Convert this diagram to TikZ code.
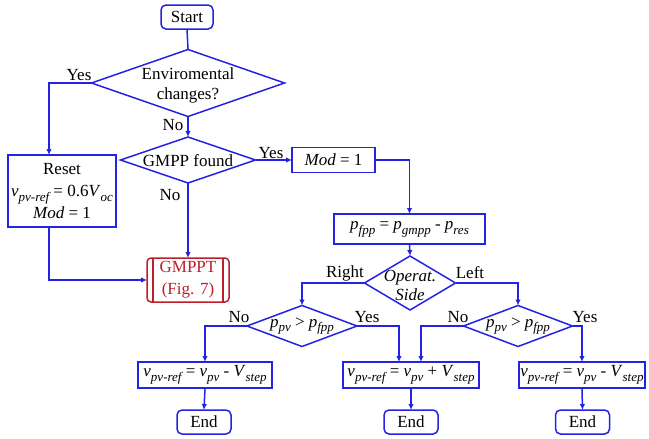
\documentclass[tikz,border=0pt]{standalone}
\usepackage{fontspec}
\setmainfont{Liberation Serif}
\usetikzlibrary{shapes.geometric,arrows.meta}
\definecolor{fblue}{RGB}{35,35,225}
\definecolor{fred}{RGB}{190,30,40}
\newcommand\fsz{\fontsize{17}{22}\selectfont}
\newcommand\sbx[1]{\raisebox{-0.28em}{\fontsize{13}{13}\selectfont\itshape #1}}
\newcommand\vv[1]{\textit{#1}}
\begin{document}
\begin{tikzpicture}[x=1pt,y=-1pt,
  every node/.style={font=\fsz, inner sep=0pt, outer sep=0pt},
  proc/.style={draw=fblue, line width=1.5pt, rectangle, align=center},
  term/.style={proc, rounded corners=5pt},
  dec/.style={draw=fblue, line width=1.5pt, diamond},
  arr/.style={draw=fblue, line width=1.5pt, -{Latex[length=6pt,width=5.5pt]}},
  ln/.style={draw=fblue, line width=1.5pt}
]
\useasboundingbox (0,0) rectangle (649,439);

% main column
\node[term, minimum width=52, minimum height=24] (start) at (187,17) {Start};
\node[dec, minimum width=193, minimum height=67] (env) at (188,83) {};
\node[align=center, font=\fontsize{17}{20}\selectfont] (envx) at (188,85) {Enviromental\\changes?};
\node[dec, minimum width=135, minimum height=46] (gmpp) at (188,160) {};
\node (gmppx) at (188,161) {GMPP found};
\node[proc, minimum width=108, minimum height=72] (reset) at (62,191)
  {Reset\\ \vv{v}\sbx{pv-ref} = 0.6\vv{V}\sbx{oc}\\ \vv{Mod} = 1};
\node[draw=fred, line width=1.5pt, rounded corners=4pt, minimum width=82, minimum height=44,
  text=fred, align=center] (fig) at (188,280) {GMPPT\\(Fig. 7)};
\draw[fred, line width=1.2pt] ([xshift=6pt]fig.north west) -- ([xshift=6pt]fig.south west);
\draw[fred, line width=1.2pt] ([xshift=-6pt]fig.north east) -- ([xshift=-6pt]fig.south east);

% right part
\node[proc, minimum width=83, minimum height=25] (mod) at (333.5,160) {\vv{Mod} = 1};
\node[proc, minimum width=151, minimum height=30] (pfpp) at (409.5,229)
  {\vv{p}\sbx{fpp} = \vv{p}\sbx{gmpp} - \vv{p}\sbx{res}};
\node[dec, minimum width=91, minimum height=54] (op) at (410,283) {};
\node[align=center, font=\fontsize{17}{19}\selectfont\itshape] (opx) at (410,285) {Operat.\\Side};
\node[dec, minimum width=110, minimum height=41] (d1) at (302,326) {};
\node (d1x) at (302,326) {\vv{p}\sbx{pv} > \vv{p}\sbx{fpp}};
\node[dec, minimum width=109, minimum height=41] (d2) at (518,326) {};
\node (d2x) at (518,326) {\vv{p}\sbx{pv} > \vv{p}\sbx{fpp}};

\node[proc, minimum width=134, minimum height=26] (bL) at (205,375)
  {\vv{v}\sbx{pv-ref} = \vv{v}\sbx{pv} - \vv{V}\sbx{step}};
\node[proc, minimum width=136, minimum height=26] (bM) at (411,375)
  {\vv{v}\sbx{pv-ref} = \vv{v}\sbx{pv} + \vv{V}\sbx{step}};
\node[proc, minimum width=126, minimum height=26] (bR) at (582,375)
  {\vv{v}\sbx{pv-ref} = \vv{v}\sbx{pv} - \vv{V}\sbx{step}};

\node[term, minimum width=54, minimum height=24] (eL) at (204,422) {End};
\node[term, minimum width=54, minimum height=24] (eM) at (411,422) {End};
\node[term, minimum width=54, minimum height=24] (eR) at (582.5,422) {End};

% labels
\node (l1) at (79,75) {Yes};
\node (l2) at (173,125) {No};
\node (l3) at (271,153) {Yes};
\node (l4) at (170,195) {No};
\node (l5) at (345,273) {Right};
\node (l6) at (470,273) {Left};
\node (l7) at (239,317) {No};
\node (l8) at (367,317) {Yes};
\node (l9) at (458,317) {No};
\node (l10) at (585,317) {Yes};

% connectors
\draw[ln] (start.south) -- (env.north);
\draw[arr] (env.west) -| ([xshift=-13pt]reset.north);
\draw[arr] (env.south) -- (gmpp.north);
\draw[arr] (gmpp.east) -- (mod.west);
\draw[arr] (gmpp.south) -- (fig.north);
\draw[arr] ([xshift=-13pt]reset.south) |- (fig.west);
\draw[arr] (mod.east) -| (pfpp.north);
\draw[arr] (pfpp.south) -- (op.north);
\draw[arr] (op.west) -| (d1.north);
\draw[arr] (op.east) -| (d2.north);
\draw[arr] (d1.west) -| (bL.north);
\draw[arr] (d1.east) -| ([xshift=-12pt]bM.north);
\draw[arr] (d2.west) -| ([xshift=10pt]bM.north);
\draw[arr] (d2.east) -| (bR.north);
\draw[arr] (bL.south) -- (eL.north);
\draw[arr] (bM.south) -- (eM.north);
\draw[arr] (bR.south) -- (eR.north);
\end{tikzpicture}
\end{document}
